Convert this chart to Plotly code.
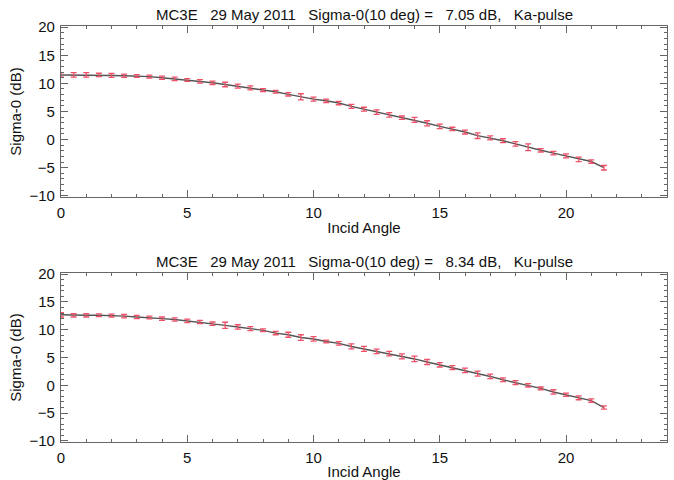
import plotly.graph_objects as go

angles = [i * 0.5 for i in range(44)]

ka_sigma0 = [11.5, 11.5, 11.5, 11.5, 11.4, 11.35, 11.3, 11.2, 11.0, 10.8, 10.6, 10.35,
             10.1, 9.8, 9.5, 9.2, 8.8, 8.5, 8.05, 7.6, 7.2, 6.9, 6.5, 5.9, 5.4, 4.9,
             4.4, 3.9, 3.5, 2.9, 2.35, 1.9, 1.35, 0.7, 0.3, -0.2, -0.75, -1.35, -1.9,
             -2.4, -2.9, -3.5, -3.9, -5.0]
ka_err = [0.4, 0.4, 0.4, 0.3, 0.35, 0.3, 0.25, 0.25, 0.3, 0.3, 0.25, 0.3,
          0.3, 0.4, 0.35, 0.35, 0.25, 0.25, 0.3, 0.55, 0.35, 0.3, 0.3, 0.35, 0.35, 0.4,
          0.4, 0.3, 0.45, 0.45, 0.4, 0.3, 0.35, 0.5, 0.35, 0.35, 0.4, 0.6, 0.3,
          0.3, 0.35, 0.4, 0.3, 0.4]

ku_sigma0 = [12.7, 12.6, 12.6, 12.6, 12.55, 12.45, 12.3, 12.2, 12.0, 11.85, 11.6, 11.4,
             11.1, 10.8, 10.5, 10.2, 9.9, 9.4, 9.1, 8.6, 8.35, 7.9, 7.55, 7.0, 6.55, 6.1,
             5.7, 5.2, 4.75, 4.2, 3.7, 3.2, 2.7, 2.1, 1.6, 1.0, 0.5, 0.0, -0.55,
             -1.2, -1.7, -2.25, -2.75, -4.0]
ku_err = [0.4, 0.3, 0.3, 0.25, 0.25, 0.3, 0.3, 0.25, 0.3, 0.3, 0.3, 0.3,
          0.3, 0.55, 0.4, 0.35, 0.25, 0.3, 0.45, 0.5, 0.4, 0.25, 0.3, 0.45, 0.45, 0.4,
          0.4, 0.45, 0.5, 0.45, 0.4, 0.35, 0.4, 0.45, 0.4, 0.35, 0.35, 0.3, 0.25,
          0.4, 0.3, 0.35, 0.3, 0.3]

titles = ["MC3E   29 May 2011   Sigma-0(10 deg) =   7.05 dB,   Ka-pulse",
          "MC3E   29 May 2011   Sigma-0(10 deg) =   8.34 dB,   Ku-pulse"]
x_ticks = [0, 5, 10, 15, 20]
y_ticks = [-10, -5, 0, 5, 10, 15, 20]

FONT = "Liberation Sans, Arial, Helvetica, sans-serif"
RED = "#ee5068"
LINE = "#555555"
FRAME = "#666666"
FS = 15

fig = go.Figure()

series = [(ka_sigma0, ka_err, "x", "y"), (ku_sigma0, ku_err, "x2", "y2")]
for vals, errs, xa, ya in series:
    fig.add_trace(go.Scatter(
        x=angles, y=vals, mode="lines", xaxis=xa, yaxis=ya,
        line=dict(color=LINE, width=1.4), showlegend=False, hoverinfo="skip"))
    fig.add_trace(go.Scatter(
        x=angles, y=vals, mode="markers", xaxis=xa, yaxis=ya,
        marker=dict(size=1, color=RED, opacity=0),
        error_y=dict(type="data", array=errs, visible=True, color=RED,
                     thickness=1.3, width=3),
        showlegend=False))

def xaxis(anchor):
    return dict(range=[0, 24], anchor=anchor, tickvals=x_ticks, ticks="inside",
                ticklen=7, tickcolor=FRAME, mirror="ticks", showline=True,
                linecolor=FRAME, linewidth=1.3, showgrid=False, zeroline=False,
                automargin=False, ticklabelstandoff=2,
                minor=dict(dtick=1, ticks="inside", ticklen=3, tickcolor=FRAME, showgrid=False),
                tickfont=dict(family=FONT, size=FS, color="#111"),
                title=dict(text="Incid Angle", font=dict(family=FONT, size=FS, color="#111"),
                           standoff=2))

def yaxis(anchor, domain):
    return dict(range=[-10.2, 20.2], anchor=anchor, domain=domain, tickvals=y_ticks,
                ticks="inside", ticklen=7, tickcolor=FRAME, mirror="ticks",
                showline=True, linecolor=FRAME, linewidth=1.3, showgrid=False,
                zeroline=False, automargin=False, ticklabelstandoff=2,
                minor=dict(dtick=1, ticks="inside", ticklen=3, tickcolor=FRAME, showgrid=False),
                tickfont=dict(family=FONT, size=FS, color="#111"),
                title=dict(text="Sigma-0 (dB)", font=dict(family=FONT, size=FS, color="#111"),
                           standoff=4))

fig.update_layout(
    width=674, height=480,
    margin=dict(l=61, r=7, t=26, b=38),
    paper_bgcolor="white", plot_bgcolor="white",
    xaxis=xaxis("y"),
    yaxis=yaxis("x", [0.589, 1.0]),
    xaxis2=xaxis("y2"),
    yaxis2=yaxis("x2", [0.0, 0.406]),
    annotations=[
        dict(text=titles[0], x=0.5, xref="paper", y=1.0, yref="paper",
             yanchor="bottom", yshift=1, showarrow=False,
             font=dict(family=FONT, size=FS, color="#111")),
        dict(text=titles[1], x=0.5, xref="paper", y=0.406, yref="paper",
             yanchor="bottom", yshift=1, showarrow=False,
             font=dict(family=FONT, size=FS, color="#111")),
    ],
)

# remove the browser's default 8px body margin so the figure fills the window
fig.write_html("out.html", config={"displayModeBar": False},
               post_script="document.body.style.margin='0';")
